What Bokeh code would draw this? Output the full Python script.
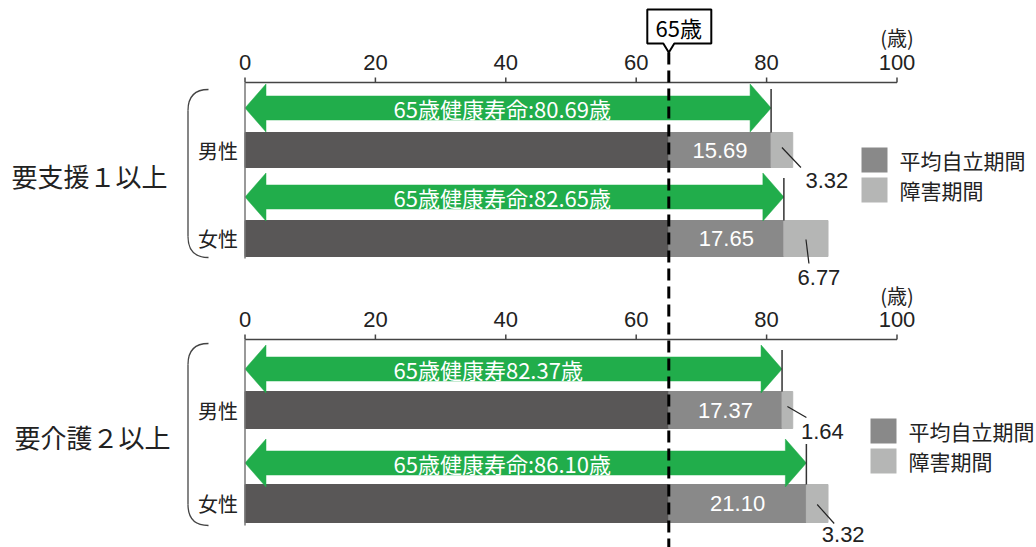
from bokeh.plotting import figure
from bokeh.models import Range1d, ColumnDataSource
from bokeh.core.properties import value
from bokeh.embed import file_html
from bokeh.resources import INLINE

# ---------------- data ----------------
groups = ["要支援１以上", "要介護２以上"]
sexes = ["男性", "女性", "男性", "女性"]
base_age = 65
independent = [15.69, 17.65, 17.37, 21.10]      # 平均自立期間
disability = [3.32, 6.77, 1.64, 3.32]           # 障害期間
healthy_life = [80.69, 82.65, 82.37, 86.10]     # 65歳健康寿命
arrow_labels = ["65歳健康寿命:80.69歳", "65歳健康寿命:82.65歳",
                "65歳健康寿82.37歳", "65歳健康寿命:86.10歳"]
value_labels = ["15.69", "17.65", "17.37", "21.10"]
dis_labels = ["3.32", "6.77", "1.64", "3.32"]
ticks = [0, 20, 40, 60, 80, 100]
tick_labels = ["0", "20", "40", "60", "80", "100"]
legend_labels = ["平均自立期間", "障害期間"]
unit_label = "(歳)"
marker_label = "65歳"

# ---------------- layout (pixels) ----------------
W, H = 1036, 547
PX = 6.52          # pixels per year
X0 = 244.5         # pixel of age 0
def d(px):         # pixel offset -> data offset
    return px / PX

bar_y = [149.5, 238, 409.5, 503]
bar_h = [35, 36, 37, 38]
arrow_y = [107.5, 196.5, 368.5, 462.5]
axis_y = [82, 339]
tick_lab_y = [62, 319]
unit_y = [37, 295]
panel_bottom = [258, 525]
group_y = [175, 436]
group_x_px = [89, 92]
brace_top = [89, 343]
brace_bot = [257, 525]
legend_sq_x_px = [874, 883]
legend_txt_x_px = [899, 908]
legend_y = [[159.5, 189.5], [430.5, 460.5]]
lead_y0 = [147, 239, 406, 504]
lead_dx = [19, 3, 19, 17]
lead_y1 = [167, 263, 417, 523]
lab_dx = [26, 10, 16, 9]
lab_dy = [13, 14, 14, 11]

DARK = "#595757"
MID = "#898989"
LIGHT = "#b5b6b5"
GREEN = "#21ad4b"
INK = "#222222"
CJK = value("Noto Sans CJK JP")
NUM = value("Liberation Sans")

p = figure(width=W, height=H, title=None,
           x_range=Range1d(-X0 / PX, (W - X0) / PX), y_range=Range1d(H, 0),
           output_backend="svg", toolbar_location=None, min_border=0,
           x_axis_location=None, y_axis_location=None)
p.grid.visible = False
p.outline_line_color = None
p.background_fill_color = "white"
p.border_fill_color = "white"

# ---------------- bars ----------------
ends = [base_age + v for v in independent]
src = ColumnDataSource(dict(
    y=bar_y, h=bar_h,
    zero=[0] * 4, base=[base_age] * 4,
    mid_end=ends,
    dis_end=[e + v for e, v in zip(ends, disability)],
    mid_c=[base_age + v / 2 for v in independent],
    vlab=value_labels,
))
p.hbar(y="y", height="h", left="zero", right="base", source=src,
       fill_color=DARK, line_color=DARK)
p.hbar(y="y", height="h", left="base", right="mid_end", source=src,
       fill_color=MID, line_color=MID)
p.hbar(y="y", height="h", left="mid_end", right="dis_end", source=src,
       fill_color=LIGHT, line_color=LIGHT)
p.text(x="mid_c", y="y", text="vlab", source=src, text_color="white",
       text_font=NUM, text_font_size="22px", text_align="center",
       text_baseline="middle")

# ---------------- arrows ----------------
hl = d(21)      # head length
hs = 12         # half shaft height
hh = 24         # half head height
xs, ys = [], []
for c, R in zip(arrow_y, healthy_life):
    L = 0
    xs.append([L, L + hl, L + hl, R - hl, R - hl, R, R - hl, R - hl, L + hl, L + hl])
    ys.append([c, c - hh, c - hs, c - hs, c - hh, c, c + hh, c + hs, c + hs, c + hh])
p.patches(xs, ys, fill_color=GREEN, line_color=GREEN, line_width=0.5)
p.text(x=[d(148.5)] * 4, y=arrow_y, text=arrow_labels, text_color="white",
       text_font=CJK, text_font_size="22px", text_align="left",
       text_baseline="middle")

# markers at the healthy life end
p.segment(x0=healthy_life, y0=[a - 19 for a in arrow_y],
          x1=healthy_life, y1=[b - h / 2 for b, h in zip(bar_y, bar_h)],
          line_color="#333333", line_width=1.5)

# ---------------- axes (top of each panel) ----------------
for k in range(2):
    ay = axis_y[k]
    p.segment(x0=[0], y0=[ay], x1=[100], y1=[ay], line_color="#444444", line_width=1.5)
    p.segment(x0=ticks, y0=[ay] * len(ticks), x1=ticks, y1=[ay - 5] * len(ticks),
              line_color="#444444", line_width=1.5)
    p.segment(x0=[0], y0=[ay], x1=[0], y1=[panel_bottom[k]],
              line_color="#777777", line_width=1.5)
    p.text(x=ticks, y=[tick_lab_y[k]] * len(ticks), text=tick_labels,
           text_color=INK, text_font=NUM, text_font_size="22px",
           text_align="center", text_baseline="middle")
    p.text(x=[100], y=[unit_y[k]], text=[unit_label], text_color=INK,
           text_font=CJK, text_font_size="20px", text_align="center",
           text_baseline="middle")

# ---------------- 65 line and marker box ----------------
p.segment(x0=[base_age], y0=[52], x1=[base_age], y1=[H],
          line_color="black", line_width=3, line_dash="12 6")
bx = [base_age - d(21.5), base_age + d(42.5), base_age + d(42.5),
      base_age + d(5.5), base_age, base_age - d(5.5), base_age - d(21.5)]
by = [9, 9, 43, 43, 52, 43, 43]
p.patch(bx, by, fill_color="white", line_color="black", line_width=2)
p.text(x=[base_age + d(10)], y=[26], text=[marker_label], text_color="black",
       text_font=CJK, text_font_size="22px", text_align="center",
       text_baseline="middle")

# ---------------- disability leaders / labels ----------------
lx0 = [e + v / 2 for e, v in zip(ends, disability)]
lx1 = [x + d(dx) for x, dx in zip(lx0, lead_dx)]
p.segment(x0=lx0, y0=lead_y0, x1=lx1, y1=lead_y1, line_color="#222222", line_width=1.2)
p.text(x=[x + d(dx) for x, dx in zip(lx1, lab_dx)],
       y=[y + dy for y, dy in zip(lead_y1, lab_dy)], text=dis_labels,
       text_color=INK, text_font=NUM, text_font_size="22px",
       text_align="center", text_baseline="middle")

# ---------------- left labels ----------------
p.text(x=[-d(7)] * 4, y=bar_y, text=sexes, text_color=INK, text_font=CJK,
       text_font_size="20px", text_align="right", text_baseline="middle")
p.text(x=[d(px - X0) for px in group_x_px], y=group_y, text=groups,
       text_color=INK, text_font=CJK, text_font_size="26px",
       text_align="center", text_baseline="middle")
for k in range(2):
    xr, xl, r = -d(36.5), -d(57), 21
    t, b = brace_top[k], brace_bot[k]
    p.quadratic(x0=[xr], y0=[t], x1=[xl], y1=[t + r], cx=[xl], cy=[t],
                line_color="#444444", line_width=1.3)
    p.segment(x0=[xl], y0=[t + r], x1=[xl], y1=[b - r], line_color="#444444", line_width=1.3)
    p.quadratic(x0=[xl], y0=[b - r], x1=[xr], y1=[b], cx=[xl], cy=[b],
                line_color="#444444", line_width=1.3)

# ---------------- legends ----------------
for k in range(2):
    sx = d(legend_sq_x_px[k] - X0)
    p.rect(x=[sx, sx], y=legend_y[k], width=d(26), height=25,
           fill_color=[MID, LIGHT], line_color=None)
    p.text(x=[d(legend_txt_x_px[k] - X0)] * 2, y=legend_y[k], text=legend_labels,
           text_color=INK, text_font=CJK, text_font_size="21px",
           text_align="left", text_baseline="middle")

open("out.html", "w").write(file_html(p, INLINE))
